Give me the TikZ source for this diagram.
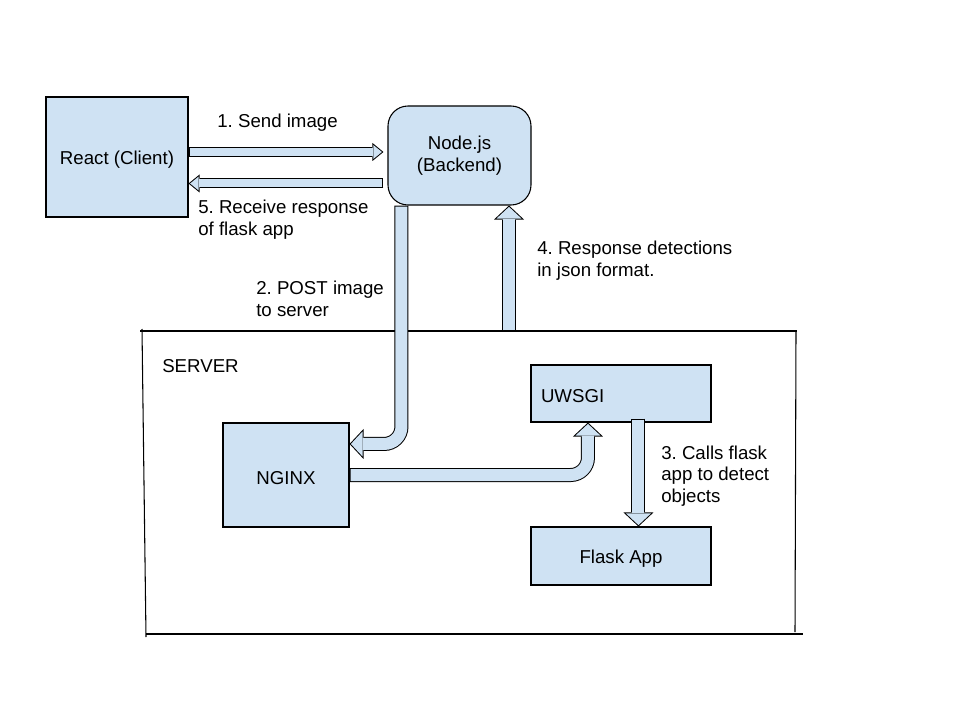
\documentclass[tikz,border=0pt]{standalone}
\usepackage{fontspec}
\setmainfont{Liberation Sans}
\frenchspacing
\usetikzlibrary{arrows.meta,positioning,calc}
\definecolor{boxblue}{HTML}{CFE2F3}
\tikzset{
  box/.style={
    rectangle, draw=black, line width=0.8pt, fill=boxblue, inner sep=0pt, align=center,
    execute at begin node={\rule{0pt}{13.8pt}}
  },
  %
  note/.style={
    inner sep=0pt, align=left
  },
  %
  bigflow/.style={
    draw=boxblue, line width=9pt, shorten <=0.75pt, shorten >=1.03pt,
    -{Rectangle[length=1pt, width=9pt, line width=0pt, sep=0pt]Triangle[length=8.72pt, width=18.7pt, line width=0pt, sep=0pt]},
    preaction={draw=black, line width=10.5pt, shorten <=0pt, shorten >=0pt,
      -{Triangle[length=10.5pt, width=22.5pt, line width=0pt]}}
  },
  %
  smallflow/.style={
    draw=boxblue, line width=6pt, shorten <=0.75pt, shorten >=1.18pt,
    -{Rectangle[length=1pt, width=6pt, line width=0pt, sep=0pt]Triangle[length=6.32pt, width=10.3pt, line width=0pt, sep=0pt]},
    preaction={draw=black, line width=7.5pt, shorten <=0pt, shorten >=0pt,
      -{Triangle[length=8.25pt, width=13.5pt, line width=0pt]}}
  }
}

\begin{document}
\begin{tikzpicture}[x=0.75pt, y=-0.75pt, font=\fontsize{14}{16.3}\selectfont]
\useasboundingbox (0,0) rectangle (960,720);

% server frame
\coordinate (srvtop) at (509,331);
\draw[line width=0.8pt] (140,331) -- (797,331);
\draw[line width=0.8pt] (142,329) -- (146,637);
\draw[line width=0.8pt] (146,634) -- (803,634);
\draw[line width=0.8pt] (796,331) -- (795,632);
\node(srvlbl)[note, anchor=west] at (162,366) {SERVER};

% boxes
\node(react)[box, minimum width=106.5pt, minimum height=90pt] at (117,157) {React (Client)};
\node(backend)[box, rounded corners=15pt, minimum width=107.25pt, minimum height=74.25pt] at (459.5,155.5) {Node.js\\(Backend)};
\node(nginx)[box, minimum width=94.5pt, minimum height=78pt] at (286,475) {NGINX};
\node(uwsgi)[box, text width=120pt, inner xsep=7.5pt, minimum height=42.75pt, align=left] at (621,393.5) {UWSGI};
\node(flask)[box, minimum width=135pt, minimum height=43.5pt] at (621,556) {Flask App};

% connectors
\draw[smallflow] ($(react.east)+(0,-5)$) -- ($(react.east -| backend.west)+(-4,-5)$);
\draw[smallflow] ($(react.east -| backend.west)+(-4,26.5)$) -- ($(react.east)+(0,26.5)$);
\draw[bigflow, rounded corners=13pt] ($(backend.south west)+(14,0)$) |- ($(nginx.north east)+(0,21.5)$);
\draw[bigflow, rounded corners=13pt] (nginx.east) -| ($(uwsgi.south west)+(57.5,0)$);
\draw[bigflow] ($(uwsgi.south west)+(108,-4)$) -- ($(flask.north west)+(108,0)$);
\draw[bigflow] (srvtop) -- (srvtop |- backend.south);

% labels
\node(sendlbl)[note] at (277.5,123) {1. Send image};
\node(recvlbl)[note, anchor=west] at (198,220) {5. Receive response\\of flask app};
\node(postlbl)[note, anchor=west] at (256,299) {2. POST image\\to server};
\node(resplbl)[note, anchor=west] at (537,261) {4. Response detections\\in json format.};
\node(callslbl)[note, anchor=west] at (661,476) {3. Calls flask\\app to detect\\objects};

\end{tikzpicture}
\end{document}
